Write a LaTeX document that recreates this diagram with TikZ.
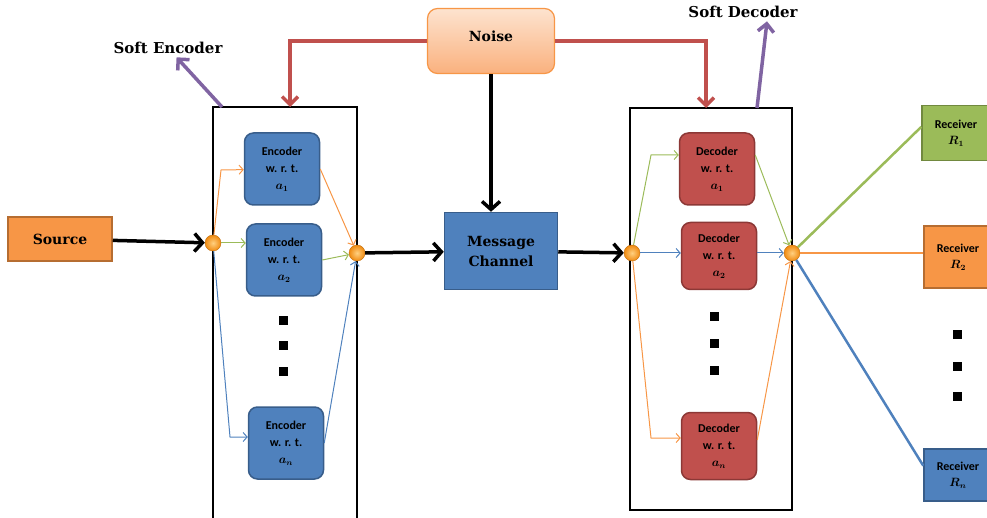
\documentclass[tikz,border=0pt]{standalone}
\usepackage{fontspec}
\newfontfamily\boxfont{Carlito}
\newfontfamily\labelfont{DejaVu Serif}
\usetikzlibrary{arrows.meta}
\definecolor{offblue}{HTML}{4F81BD}
\definecolor{offblueb}{HTML}{385D8A}
\definecolor{offred}{HTML}{C0504D}
\definecolor{offredb}{HTML}{8C3836}
\definecolor{offgreen}{HTML}{9BBB59}
\definecolor{offgreenb}{HTML}{71893F}
\definecolor{offorange}{HTML}{F79646}
\definecolor{offorangeb}{HTML}{B66D31}
\definecolor{offpurple}{HTML}{8064A2}
\definecolor{noisetop}{HTML}{FDE3CF}
\definecolor{noisebot}{HTML}{FAB17E}
\definecolor{knotin}{HTML}{FFD080}
\definecolor{knotout}{HTML}{F08A10}
\begin{document}
\begin{tikzpicture}[x=1pt, y=-1pt,
  bigtext/.style={font=\labelfont\bfseries\fontsize{14}{20}\selectfont, align=center},
  softtext/.style={font=\labelfont\bfseries\fontsize{15}{18}\selectfont},
  smalltext/.style={font=\boxfont\bfseries\boldmath\fontsize{12}{17}\selectfont, align=center},
  encbox/.style={smalltext, draw=offblueb, fill=offblue, line width=1.5pt,
    rounded corners=9pt, minimum width=75pt, minimum height=72pt, inner sep=0pt},
  decbox/.style={encbox, draw=offredb, fill=offred},
  rcvbox/.style={smalltext, line width=1.5pt, minimum width=68pt, inner sep=0pt,
    font=\boxfont\bfseries\boldmath\fontsize{12}{16}\selectfont},
  knot/.style={circle, inner sep=0pt, minimum size=16pt, draw=knotout!80!black,
    line width=0.4pt, inner color=knotin, outer color=knotout},
  frame/.style={line width=2.5pt},
  bigarr/.style={line width=3.5pt, -{Straight Barb[length=8pt, width=18pt]}},
  redarr/.style={line width=3.5pt, color=offred, -{Straight Barb[length=8pt, width=16pt]}},
  purparr/.style={line width=3.5pt, color=offpurple, -{Straight Barb[length=8pt, width=16pt]}},
  thinarr/.style={line width=1pt, -{Straight Barb[length=4pt, width=9pt]}},
  feed/.style={line width=2.5pt}]
  \useasboundingbox (0,0) rectangle (987,518);

  % frames of the soft encoder and decoder
  \draw [frame] (213,530) -- (213,107) -- (357,107) -- (357,530);
  \draw [frame] (630,108) rectangle (792,510);
  \coordinate (encTop) at (290,107);
  \coordinate (decTop) at (706,108);
  \coordinate (encCorner) at (222,107);
  \coordinate (decCorner) at (757,108);

  % labels
  \node [softtext] (softenc) at (168,48) {Soft Encoder};
  \node [softtext] (softdec) at (743,12) {Soft Decoder};

  % blocks
  \node [bigtext, draw=offorangeb, fill=offorange, line width=1.5pt,
    minimum width=104pt, minimum height=44pt] (src) at (60,239) {Source};
  \node [bigtext, draw=offorange, top color=noisetop, bottom color=noisebot,
    line width=1.2pt, rounded corners=10pt, minimum width=127pt, minimum height=65pt,
    text depth=10pt] (noise) at (491,41) {Noise};
  \node [bigtext, draw=offblueb, fill=offblue, line width=1.5pt,
    minimum width=113pt, minimum height=77pt] (chan) at (501,251) {Message\\Channel};

  \node [encbox] (enc1) at (282,169) {Encoder\\w. r. t.\\$a_1$};
  \node [encbox] (enc2) at (284,260) {Encoder\\w. r. t.\\$a_2$};
  \node [encbox] (encn) at (286,443) {Encoder\\w. r. t.\\$a_n$};
  \node [decbox] (dec1) at (717,169) {Decoder\\w. r. t.\\$a_1$};
  \node [decbox, minimum height=67pt] (dec2) at (719,256) {Decoder\\w. r. t.\\$a_2$};
  \node [decbox, minimum height=67pt] (decn) at (719,446) {Decoder\\w. r. t.\\$a_n$};

  \node [rcvbox, draw=offgreenb, fill=offgreen, minimum height=55pt] (rcv1) at (956,133) {Receiver\\$R_1$};
  \node [rcvbox, draw=offorangeb, fill=offorange, minimum height=62pt] (rcv2) at (958,257) {Receiver\\$R_2$};
  \node [rcvbox, draw=offblueb, fill=offblue, minimum height=52pt] (rcvn) at (958,475) {Receiver\\$R_n$};

  % junctions
  \node [knot] (ein) at (213,243) {};
  \node [knot] (eout) at (357,253) {};
  \node [knot] (din) at (632,253) {};
  \node [knot] (dout) at (792,253) {};

  % vertical dots
  \foreach \y in {316, 341, 367}
    \fill (279,\y) rectangle ++(9,9);
  \foreach \y in {312, 339, 366}
    \fill (710,\y) rectangle ++(9,9);
  \foreach \y in {330, 362, 392}
    \fill (953,\y) rectangle ++(9,9);

  % main flow
  \draw [bigarr] (src) -- (ein);
  \draw [bigarr] (eout) -- (chan);
  \draw [bigarr] (chan) -- (din);
  \draw [bigarr] (noise.south) -- (noise.south |- chan.north);
  \draw [redarr] (noise.west) -- (290,41) -- (encTop);
  \draw [redarr] (noise.east) -- (706,41) -- (decTop);
  \draw [purparr] (encCorner) -- (softenc);
  \draw [purparr] (decCorner) -- ([xshift=24pt]softdec.south);

  % inside the soft encoder
  \draw [thinarr, offorange] (ein) -- (221,170) -- (enc1);
  \draw [thinarr, offgreen] (ein) -- (enc2.west |- ein);
  \draw [thinarr, offblue] (ein) -- (230,437) -- (encn.west |- 0,437);
  \draw [thinarr, offorange] (enc1.east) -- (eout);
  \draw [thinarr, offgreen] (enc2.east) -- (eout);
  \draw [thinarr, offblue] (encn.east) -- (eout);

  % inside the soft decoder
  \draw [thinarr, offgreen] (din) -- (651,155) -- (dec1.west |- 0,155);
  \draw [thinarr, offblue] (din) -- (dec2.west |- din);
  \draw [thinarr, offorange] (din) -- (651,438) -- (decn.west |- 0,438);
  \draw [thinarr, offgreen] (dec1.east |- 0,155) -- (dout);
  \draw [thinarr, offblue] (dec2.east |- dout) -- (dout);
  \draw [thinarr, offorange] (decn.east |- 0,440) -- (dout);

  % to the receivers
  \draw [feed, offgreen] (dout) -- (rcv1.170);
  \draw [feed, offorange] (dout) -- (rcv2.west |- dout);
  \draw [feed, offblue] (dout) -- (rcvn.165);
\end{tikzpicture}
\end{document}
